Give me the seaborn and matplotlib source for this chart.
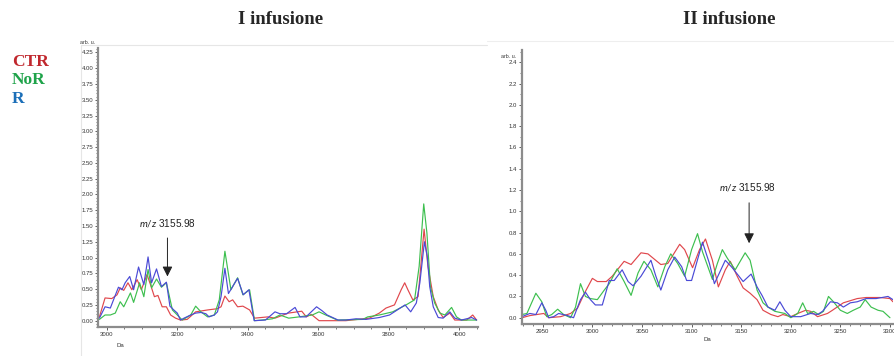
import pandas as pd
import matplotlib
matplotlib.use('Agg')
import matplotlib.pyplot as plt
from matplotlib.lines import Line2D
from matplotlib.ticker import MultipleLocator, FormatStrFormatter
import seaborn as sns

# I infusione (left spectrum)
ctr1_da = [2979, 2995, 3014, 3029, 3038, 3048, 3060, 3071, 3086, 3098, 3114, 3124, 3135, 3145, 3157, 3169,
           3181, 3195, 3209, 3228, 3252, 3286, 3314, 3324, 3335, 3347, 3357, 3371, 3386, 3405, 3419, 3457,
           3477, 3515, 3553, 3566, 3580, 3602, 3678, 3745, 3773, 3792, 3816, 3835, 3845, 3854, 3868, 3883,
           3900, 3911, 3926, 3940, 3954, 3973, 3987, 4021, 4038, 4049]
ctr1_int = [0.06, 0.36, 0.35, 0.41, 0.52, 0.48, 0.60, 0.49, 0.65, 0.49, 0.73, 0.57, 0.38, 0.40, 0.22, 0.22,
            0.09, 0.04, 0.01, 0.02, 0.14, 0.17, 0.19, 0.22, 0.39, 0.30, 0.33, 0.22, 0.23, 0.17, 0.04, 0.06,
            0.04, 0.12, 0.15, 0.06, 0.10, 0.00, 0.00, 0.04, 0.12, 0.20, 0.25, 0.49, 0.60, 0.49, 0.33, 0.38,
            1.45, 0.86, 0.38, 0.17, 0.05, 0.12, 0.01, 0.01, 0.09, 0.01]

nor1_da = [2979, 2995, 3010, 3024, 3038, 3048, 3067, 3076, 3093, 3105, 3117, 3127, 3141, 3155, 3169, 3186,
           3200, 3214, 3238, 3252, 3267, 3286, 3305, 3319, 3335, 3352, 3371, 3386, 3405, 3419, 3440, 3470,
           3491, 3516, 3545, 3583, 3602, 3621, 3654, 3726, 3740, 3773, 3811, 3849, 3873, 3886, 3899, 3908,
           3918, 3930, 3945, 3959, 3978, 3992, 4006, 4049]
nor1_int = [0.02, 0.09, 0.09, 0.12, 0.30, 0.22, 0.44, 0.29, 0.60, 0.38, 0.81, 0.52, 0.66, 0.53, 0.60, 0.17,
            0.09, 0.01, 0.09, 0.23, 0.14, 0.06, 0.09, 0.33, 1.10, 0.49, 0.68, 0.41, 0.49, 0.00, 0.01, 0.03,
            0.09, 0.04, 0.06, 0.09, 0.14, 0.09, 0.01, 0.02, 0.06, 0.09, 0.14, 0.25, 0.33, 0.86, 1.85, 1.39,
            0.54, 0.28, 0.12, 0.09, 0.21, 0.06, 0.01, 0.01]

r1_da = [2979, 2995, 3010, 3019, 3033, 3043, 3052, 3065, 3076, 3090, 3105, 3117, 3127, 3141, 3155, 3169,
         3179, 3190, 3200, 3209, 3219, 3238, 3252, 3267, 3281, 3290, 3305, 3314, 3324, 3335, 3345, 3371,
         3387, 3403, 3418, 3450, 3477, 3491, 3510, 3534, 3548, 3565, 3595, 3610, 3625, 3656, 3678, 3707,
         3735, 3773, 3802, 3846, 3862, 3878, 3888, 3901, 3909, 3916, 3926, 3940, 3954, 3973, 3987, 4006,
         4035, 4049]
r1_int = [0.04, 0.22, 0.20, 0.33, 0.53, 0.49, 0.60, 0.70, 0.49, 0.85, 0.57, 1.01, 0.60, 0.82, 0.54, 0.61,
          0.23, 0.17, 0.12, 0.01, 0.04, 0.09, 0.12, 0.13, 0.11, 0.06, 0.09, 0.14, 0.38, 0.83, 0.43, 0.67,
          0.41, 0.49, 0.00, 0.01, 0.14, 0.11, 0.11, 0.21, 0.06, 0.06, 0.22, 0.16, 0.09, 0.01, 0.01, 0.03,
          0.02, 0.05, 0.09, 0.25, 0.14, 0.28, 0.60, 1.25, 1.02, 0.54, 0.22, 0.05, 0.04, 0.14, 0.04, 0.01,
          0.05, 0.01]

# II infusione (right spectrum)
ctr2_da = [2929, 2937, 2944, 2951, 2956, 2968, 2978, 2985, 2992, 3000, 3005, 3014, 3020, 3032, 3039, 3049,
           3056, 3069, 3076, 3088, 3093, 3101, 3108, 3114, 3121, 3127, 3134, 3139, 3146, 3152, 3159, 3166,
           3172, 3180, 3187, 3192, 3200, 3207, 3215, 3220, 3227, 3237, 3242, 3253, 3260, 3267, 3276, 3290,
           3300, 3303]
ctr2_int = [0.00, 0.02, 0.03, 0.04, 0.00, 0.01, 0.04, 0.09, 0.23, 0.37, 0.34, 0.34, 0.39, 0.53, 0.50, 0.61,
            0.60, 0.50, 0.51, 0.69, 0.64, 0.47, 0.64, 0.74, 0.54, 0.29, 0.45, 0.53, 0.39, 0.28, 0.23, 0.17,
            0.07, 0.03, 0.01, 0.03, 0.01, 0.04, 0.07, 0.06, 0.01, 0.04, 0.07, 0.14, 0.16, 0.18, 0.19, 0.19,
            0.18, 0.15]

nor2_da = [2929, 2934, 2943, 2949, 2954, 2959, 2965, 2971, 2978, 2983, 2988, 2993, 2998, 3005, 3012, 3017,
           3025, 3032, 3039, 3046, 3052, 3059, 3066, 3073, 3079, 3086, 3093, 3100, 3106, 3111, 3121, 3126,
           3131, 3136, 3144, 3154, 3159, 3166, 3172, 3177, 3184, 3194, 3200, 3207, 3212, 3217, 3223, 3228,
           3233, 3238, 3243, 3250, 3257, 3263, 3270, 3275, 3281, 3288, 3293, 3300]
nor2_int = [0.03, 0.04, 0.23, 0.15, 0.01, 0.03, 0.08, 0.03, 0.00, 0.10, 0.32, 0.20, 0.18, 0.17, 0.26, 0.32,
            0.46, 0.34, 0.21, 0.42, 0.53, 0.45, 0.29, 0.48, 0.60, 0.51, 0.39, 0.64, 0.79, 0.62, 0.36, 0.51,
            0.64, 0.56, 0.45, 0.61, 0.54, 0.26, 0.14, 0.10, 0.06, 0.04, 0.00, 0.04, 0.14, 0.04, 0.06, 0.03,
            0.06, 0.20, 0.15, 0.07, 0.04, 0.07, 0.10, 0.17, 0.10, 0.07, 0.06, 0.00]

r2_da = [2929, 2937, 2943, 2949, 2953, 2956, 2961, 2966, 2975, 2981, 2988, 2993, 2998, 3003, 3010, 3017,
         3022, 3030, 3036, 3041, 3049, 3059, 3064, 3069, 3076, 3083, 3090, 3095, 3100, 3104, 3111, 3118,
         3123, 3128, 3134, 3141, 3152, 3160, 3166, 3171, 3177, 3184, 3189, 3194, 3200, 3210, 3220, 3227,
         3232, 3240, 3247, 3253, 3260, 3267, 3276, 3286, 3298, 3303]
r2_int = [0.01, 0.04, 0.03, 0.14, 0.07, 0.00, 0.01, 0.04, 0.02, 0.00, 0.17, 0.24, 0.17, 0.12, 0.12, 0.35,
          0.35, 0.45, 0.34, 0.30, 0.39, 0.54, 0.39, 0.26, 0.45, 0.57, 0.48, 0.35, 0.35, 0.48, 0.71, 0.51,
          0.32, 0.42, 0.54, 0.47, 0.34, 0.41, 0.29, 0.21, 0.10, 0.07, 0.15, 0.07, 0.01, 0.01, 0.04, 0.03,
          0.06, 0.15, 0.14, 0.10, 0.14, 0.15, 0.18, 0.18, 0.20, 0.17]

groups = ['CTR', 'NoR', 'R']
line_colors = {'CTR': '#e0474c', 'NoR': '#3dbf4f', 'R': '#4a4ad6'}
label_colors = {'CTR': '#c0272d', 'NoR': '#1fa34a', 'R': '#1c6fb8'}
titles = ['I infusione', 'II infusione']
peak_label = '3155.98'


def spectrum(parts):
    frames = [pd.DataFrame({'Da': da, 'int': val, 'group': name}) for name, da, val in parts]
    return pd.concat(frames, ignore_index=True)


df1 = spectrum([('CTR', ctr1_da, ctr1_int), ('NoR', nor1_da, nor1_int), ('R', r1_da, r1_int)])
df2 = spectrum([('CTR', ctr2_da, ctr2_int), ('NoR', nor2_da, nor2_int), ('R', r2_da, r2_int)])

sns.set_style('white')
plt.rcParams['font.family'] = ['Liberation Sans', 'DejaVu Sans']
plt.rcParams['mathtext.fontset'] = 'custom'
plt.rcParams['mathtext.it'] = 'Lato:italic'
plt.rcParams['mathtext.rm'] = 'Lato'

fig = plt.figure(figsize=(8.95, 3.56), dpi=100)
ax1 = fig.add_axes([0.1095, 0.0815, 0.4246, 0.7837])
ax2 = fig.add_axes([0.5832, 0.089, 0.4145, 0.7705])

for ax, df in [(ax1, df1), (ax2, df2)]:
    sns.lineplot(data=df, x='Da', y='int', hue='group', hue_order=groups, palette=line_colors,
                 estimator=None, sort=False, lw=0.85, legend=False, ax=ax)
    ax.set_xlabel('')
    ax.set_ylabel('')
    for s in ['top', 'right']:
        ax.spines[s].set_visible(False)
    for s in ['left', 'bottom']:
        ax.spines[s].set_color('#8c8c8c')
        ax.spines[s].set_linewidth(1.6)
    ax.tick_params(which='major', length=2.5, width=0.6, color='#444444', labelsize=4.3,
                   labelcolor='#333333', pad=1, direction='out', left=True, bottom=True)
    ax.tick_params(which='minor', length=1.4, width=0.5, color='#444444', direction='out',
                   left=True, bottom=True)

# left axis scales
ax1.set_xlim(2975, 4053)
ax1.set_ylim(-0.10, 4.32)
ax1.xaxis.set_major_locator(MultipleLocator(200))
ax1.xaxis.set_minor_locator(MultipleLocator(50))
ax1.yaxis.set_major_locator(MultipleLocator(0.25))
ax1.yaxis.set_minor_locator(MultipleLocator(0.05))
ax1.yaxis.set_major_formatter(FormatStrFormatter('%.2f'))

# right axis scales
ax2.set_xlim(2929, 3303)
ax2.set_ylim(-0.062, 2.516)
ax2.xaxis.set_major_locator(MultipleLocator(50))
ax2.xaxis.set_minor_locator(MultipleLocator(10))
ax2.yaxis.set_major_locator(MultipleLocator(0.2))
ax2.yaxis.set_minor_locator(MultipleLocator(0.1))
ax2.yaxis.set_major_formatter(FormatStrFormatter('%.1f'))

# axis captions as drawn by the instrument software
ax1.text(-0.028, 1.018, 'arb. u.', transform=ax1.transAxes, fontsize=3.8, color='#333333',
         ha='center', va='center')
ax2.text(-0.035, 0.975, 'arb. u.', transform=ax2.transAxes, fontsize=3.8, color='#333333',
         ha='center', va='center')
ax1.text(0.06, -0.065, 'Da', transform=ax1.transAxes, fontsize=4.3, color='#333333',
         ha='center', va='center')
ax2.text(0.499, -0.054, 'Da', transform=ax2.transAxes, fontsize=4.3, color='#333333',
         ha='center', va='center')

# peak annotations
arrow = dict(arrowstyle='-|>,head_length=0.6,head_width=0.3', color='#222222', lw=0.7,
             mutation_scale=10, shrinkA=0, shrinkB=0)
ax1.annotate('', xy=(3172, 0.70), xytext=(3172, 1.31), arrowprops=arrow)
ax1.text(3171, 1.55, r'$m/z$ ' + peak_label, fontsize=7.2, ha='center', va='center', color='#222222')
ax2.annotate('', xy=(3158, 0.70), xytext=(3158, 1.08), arrowprops=arrow)
ax2.text(3156, 1.23, r'$m/z$ ' + peak_label, fontsize=7.2, ha='center', va='center', color='#222222')

# titles and group labels
fig.text(281 / 895, 1 - 20 / 356, titles[0], ha='center', va='center', fontsize=13.5,
         fontweight='bold', family='Liberation Serif')
fig.text(729 / 895, 1 - 20 / 356, titles[1], ha='center', va='center', fontsize=13.5,
         fontweight='bold', family='Liberation Serif')
for i, g in enumerate(groups):
    fig.text(12 / 895, 1 - (62 + 18.5 * i) / 356, g, ha='left', va='center', fontsize=12.5,
             fontweight='bold', family='Liberation Serif', color=label_colors[g])

# faint screenshot frames
fig.add_artist(Line2D([81 / 895, 81 / 895], [0, 1 - 45 / 356], color='#e6e6e6', lw=0.8))
fig.add_artist(Line2D([81 / 895, 487 / 895], [1 - 45 / 356, 1 - 45 / 356], color='#e6e6e6', lw=0.8))
fig.add_artist(Line2D([487 / 895, 1], [1 - 41 / 356, 1 - 41 / 356], color='#eeeeee', lw=0.8))

fig.savefig('out.png', dpi=100)
